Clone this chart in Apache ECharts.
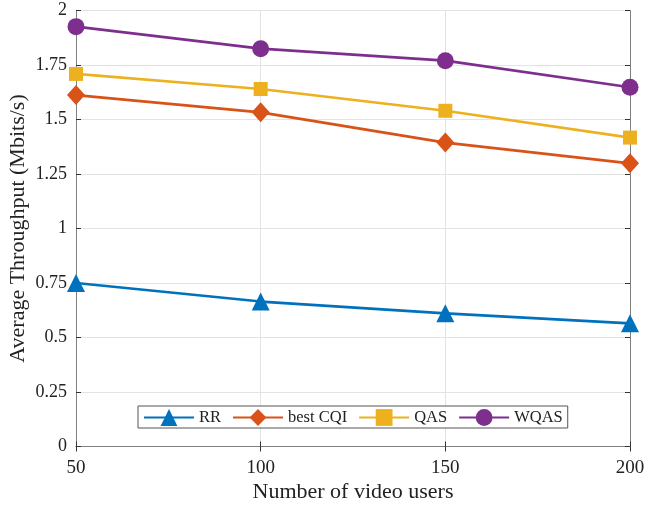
<!DOCTYPE html>
<html>
<head>
<meta charset="utf-8">
<script src="https://cdn.jsdelivr.net/npm/echarts@6/dist/echarts.min.js"></script>
<style>html,body{margin:0;padding:0;background:#fff;}#c{width:646px;height:507px;}</style>
</head>
<body>
<div id="c"></div>
<script>
const users = [50, 100, 150, 200];
const rr = [0.75, 0.665, 0.611, 0.565];
const bestCQI = [1.612, 1.533, 1.394, 1.299];
const qas = [1.709, 1.640, 1.540, 1.417];
const wqas = [1.926, 1.825, 1.770, 1.648];
const seriesNames = ['RR', 'best CQI', 'QAS', 'WQAS'];

const font = 'Liberation Serif';
const axisColor = '#808080';
function pairs(v) { return users.map((x, i) => [x, v[i]]); }
function mk(name, data, color, symbol, size) {
  return {
    name: name, type: 'line', data: pairs(data), symbol: symbol, symbolSize: size,
    lineStyle: { color: color, width: 2.7 }, itemStyle: { color: color },
    xAxisIndex: 0, yAxisIndex: 0, z: 3
  };
}
const chart = echarts.init(document.getElementById('c'), null, { renderer: 'canvas' });
chart.setOption({
  animation: false,
  backgroundColor: '#fff',
  grid: { left: 76, right: 16, top: 10.5, bottom: 60.5, containLabel: false, outerBoundsMode: 'none' },
  legend: {
    data: seriesNames,
    left: 138, top: 406,
    backgroundColor: '#fff', borderColor: '#555', borderWidth: 1,
    padding: [3, 5, 2, 5], itemGap: 11, itemWidth: 50, itemHeight: 21,
    textStyle: { fontFamily: font, fontSize: 16.5, color: '#222' }
  },
  xAxis: [{
    type: 'value', min: 50, max: 200, interval: 50,
    name: 'Number of video users', nameLocation: 'middle', nameGap: 35, nameMoveOverlap: false,
    nameTextStyle: { fontFamily: font, fontSize: 22, color: '#222' },
    axisLine: { show: true, lineStyle: { color: axisColor, width: 1 } },
    axisTick: { show: true, inside: true, length: 5, lineStyle: { color: '#333' } },
    axisLabel: { fontFamily: font, fontSize: 19, color: '#222', margin: 12 },
    splitLine: { show: true, lineStyle: { color: '#e3e3e3', width: 1 } }
  }, {
    type: 'value', min: 50, max: 200, interval: 50, position: 'top',
    axisLine: { show: true, lineStyle: { color: axisColor, width: 1 } },
    axisTick: { show: true, inside: true, length: 5, lineStyle: { color: '#333' } },
    axisLabel: { show: false }, splitLine: { show: false }
  }],
  yAxis: [{
    type: 'value', min: 0, max: 2, interval: 0.25,
    name: 'Average Throughput (Mbits/s)', nameLocation: 'middle', nameGap: 47, nameMoveOverlap: false,
    nameTextStyle: { fontFamily: font, fontSize: 22, color: '#222' },
    axisLine: { show: true, lineStyle: { color: axisColor, width: 1 } },
    axisTick: { show: true, inside: true, length: 5, lineStyle: { color: '#333' } },
    axisLabel: { fontFamily: font, fontSize: 18, color: '#222', margin: 9 },
    splitLine: { show: true, lineStyle: { color: '#e3e3e3', width: 1 } }
  }, {
    type: 'value', min: 0, max: 2, interval: 0.25, position: 'right',
    axisLine: { show: true, lineStyle: { color: axisColor, width: 1 } },
    axisTick: { show: true, inside: true, length: 5, lineStyle: { color: '#333' } },
    axisLabel: { show: false }, splitLine: { show: false }
  }],
  series: [
    mk('RR', rr, '#0072BD', 'triangle', 18),
    mk('best CQI', bestCQI, '#D95319', 'diamond', [18, 20]),
    mk('QAS', qas, '#EDB120', 'rect', 14),
    mk('WQAS', wqas, '#7E2F8E', 'circle', 17)
  ]
});
</script>
</body>
</html>
